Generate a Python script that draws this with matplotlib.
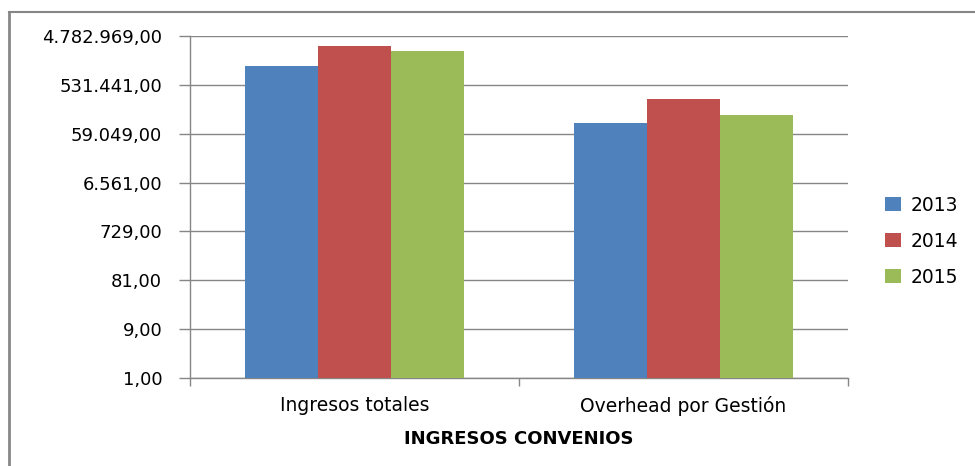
import numpy as np
import matplotlib.pyplot as plt
from matplotlib.ticker import FixedLocator, FuncFormatter, NullLocator
from matplotlib.lines import Line2D

categories = ["Ingresos totales", "Overhead por Gestión"]
years = ["2013", "2014", "2015"]
values_2013 = [1240000, 95600]
values_2014 = [3050000, 281000]
values_2015 = [2440000, 137000]
y_ticks = [1, 9, 81, 729, 6561, 59049, 531441, 4782969]

colors = ["#4F81BD", "#C0504D", "#9BBB59"]
grid_color = "#868686"


def es_format(v, pos=None):
    s = f"{v:,.2f}"
    return s.replace(",", "X").replace(".", ",").replace("X", ".")


fig = plt.figure(figsize=(9.75, 4.66), dpi=100)
ax = fig.add_axes([190 / 975, 1 - 378 / 466, (848 - 190) / 975, (378 - 36) / 466])

x = np.arange(len(categories))
w = 0.222
for i, (vals, yr) in enumerate(zip([values_2013, values_2014, values_2015], years)):
    ax.bar(x + (i - 1) * w, vals, width=w, color=colors[i], label=yr, zorder=3)

ax.set_yscale("log", base=9)
ax.set_ylim(1, 4782969)
ax.yaxis.set_major_locator(FixedLocator(y_ticks))
ax.yaxis.set_minor_locator(NullLocator())
ax.yaxis.set_major_formatter(FuncFormatter(es_format))
ax.set_xlim(-0.5, 1.5)
ax.set_xticks(x)
ax.set_xticklabels(categories)
ax.xaxis.set_minor_locator(FixedLocator([-0.5, 0.5, 1.5]))
ax.tick_params(axis="x", which="major", length=0, pad=13, labelsize=13.5)
ax.tick_params(axis="x", which="minor", length=6, color=grid_color, width=1)
ax.tick_params(axis="y", length=8, color=grid_color, width=1, pad=12, labelsize=13)

ax.grid(axis="y", color=grid_color, linewidth=1, zorder=0)
for side in ["top", "right"]:
    ax.spines[side].set_visible(False)
for side in ["left", "bottom"]:
    ax.spines[side].set_color(grid_color)
    ax.spines[side].set_linewidth(1)

ax.set_xlabel("INGRESOS CONVENIOS", fontsize=13, fontweight="bold", labelpad=10)

ax.legend(loc="center left", bbox_to_anchor=(1.031, 0.40), frameon=False,
          fontsize=13.5, handlelength=0.85, handleheight=0.75, labelspacing=0.9,
          handletextpad=0.5)

# outer chart border (only left and top visible)
fig.add_artist(Line2D([9 / 975, 9 / 975], [0, 1 - 12 / 466], transform=fig.transFigure,
                      color=grid_color, linewidth=2))
fig.add_artist(Line2D([9 / 975, 1], [1 - 12 / 466, 1 - 12 / 466], transform=fig.transFigure,
                      color=grid_color, linewidth=1.5))

fig.savefig("out.png", dpi=100)
